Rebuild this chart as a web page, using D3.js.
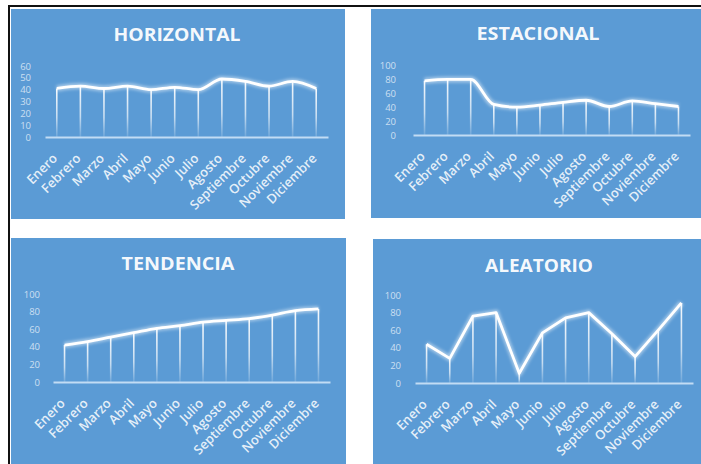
<!DOCTYPE html>
<html><head><meta charset="utf-8">
<script src="https://cdn.jsdelivr.net/npm/d3@7"></script>
<style>html,body{margin:0;padding:0;background:#fff;} svg{display:block;}</style>
</head><body>
<svg id="c" width="701" height="464"></svg>
<script>
const months = ["Enero","Febrero","Marzo","Abril","Mayo","Junio","Julio","Agosto","Septiembre","Octubre","Noviembre","Diciembre"];
const horizontalValues = [41, 43, 41, 43, 40, 42, 40, 49, 47, 43, 47, 41];
const estacionalValues = [78, 80, 80, 44, 40, 43, 47, 50, 41, 49, 45, 41];
const tendenciaValues  = [42, 46, 51, 56, 61, 64, 68, 70, 72, 76, 81, 83];
const aleatorioValues  = [44, 28, 76, 80, 11, 57, 74, 80, 56, 30, 60, 91];
const horizontalTicks = [0, 10, 20, 30, 40, 50, 60];
const percentTicks = [0, 20, 40, 60, 80, 100];
const titles = ["HORIZONTAL", "ESTACIONAL", "TENDENCIA", "ALEATORIO"];

const BLUE = "#5b9bd5";
const svg = d3.select("#c");

// frame
svg.append("rect").attr("x", 8).attr("y", 5).attr("width", 693).attr("height", 2).attr("fill", "#111");
svg.append("rect").attr("x", 8).attr("y", 5).attr("width", 2).attr("height", 459).attr("fill", "#111");

const defs = svg.append("defs");
const g1 = defs.append("linearGradient").attr("id", "drop").attr("x1", 0).attr("y1", 0).attr("x2", 0).attr("y2", 1);
g1.append("stop").attr("offset", 0).attr("stop-color", "#fff").attr("stop-opacity", 0.95);
g1.append("stop").attr("offset", 0.6).attr("stop-color", "#fff").attr("stop-opacity", 0.65);
g1.append("stop").attr("offset", 1).attr("stop-color", "#fff").attr("stop-opacity", 0.12);
defs.append("filter").attr("id", "glow").attr("x", "-10%").attr("y", "-50%").attr("width", "120%").attr("height", "200%")
  .append("feGaussianBlur").attr("stdDeviation", 1.4);

const panels = [
  {title: titles[0], values: horizontalValues, ticks: horizontalTicks, max: 60,
   box: [11, 9, 334, 210], xr: [45, 328], yr: [137, 66], labelRight: 31, tx: 177, ty: 41, tl: 127, curve: d3.curveMonotoneX},
  {title: titles[1], values: estacionalValues, ticks: percentTicks, max: 100,
   box: [371, 9, 330, 209], xr: [413, 690], yr: [135, 65.5], labelRight: 396, tx: 538, ty: 40, tl: 123, curve: d3.curveMonotoneX},
  {title: titles[2], values: tendenciaValues, ticks: percentTicks, max: 100,
   box: [11, 238, 335, 226], xr: [53, 330], yr: [382, 294], labelRight: 40, tx: 178, ty: 270, tl: 113, curve: d3.curveMonotoneX},
  {title: titles[3], values: aleatorioValues, ticks: percentTicks, max: 100,
   box: [373, 239, 328, 225], xr: [415, 693], yr: [383, 295], labelRight: 401, tx: 539, ty: 271.5, tl: 108, curve: d3.curveLinear}
];

panels.forEach(p => {
  const g = svg.append("g");
  g.append("rect").attr("x", p.box[0]).attr("y", p.box[1]).attr("width", p.box[2]).attr("height", p.box[3]).attr("fill", BLUE);

  g.append("text").attr("x", p.tx).attr("y", p.ty).attr("text-anchor", "middle")
    .attr("font-family", "'Open Sans', sans-serif").attr("font-weight", 700).attr("font-size", 17)
    .attr("fill", "#fff").attr("fill-opacity", 0.95).attr("textLength", p.tl).attr("lengthAdjust", "spacingAndGlyphs")
    .text(p.title);

  const x = d3.scaleBand().domain(months).range(p.xr).padding(0);
  const y = d3.scaleLinear().domain([0, p.max]).range(p.yr);
  const cx = d => x(d) + x.bandwidth() / 2;

  // y axis labels
  const ya = g.append("g").attr("transform", `translate(${p.labelRight},0)`)
    .call(d3.axisLeft(y).tickValues(p.ticks).tickSize(0).tickPadding(0));
  ya.select(".domain").remove();
  ya.selectAll("text").attr("font-family", "'Open Sans', sans-serif").attr("font-size", 9.5)
    .attr("fill", "#fff").attr("fill-opacity", 0.7);

  // drop lines
  g.append("g").selectAll("rect").data(months).join("rect")
    .attr("x", d => cx(d) - 0.8).attr("width", 1.6)
    .attr("y", (d, i) => y(p.values[i]))
    .attr("height", (d, i) => y(0) - y(p.values[i]))
    .attr("fill", "url(#drop)");

  // x axis
  const xa = g.append("g").attr("transform", `translate(0,${y(0)})`)
    .call(d3.axisBottom(x).tickSize(0).tickSizeOuter(0));
  xa.select(".domain").attr("stroke", "#c2dcf4").attr("stroke-width", 2);
  xa.selectAll("text")
    .attr("font-family", "'Open Sans', sans-serif").attr("font-weight", 600).attr("font-size", 13)
    .attr("fill", "#fff").attr("fill-opacity", 0.85)
    .attr("text-anchor", "end").attr("y", 0).attr("x", 0).attr("dy", "0.35em")
    .attr("transform", "translate(-2,19) rotate(-45)");

  // line
  const line = d3.line().x((d, i) => cx(months[i])).y(d => y(d)).curve(p.curve);
  g.append("path").attr("d", line(p.values)).attr("fill", "none").attr("stroke", "#fff")
    .attr("stroke-width", 6).attr("stroke-opacity", 0.45).attr("filter", "url(#glow)").attr("stroke-linejoin", "round");
  g.append("path").attr("d", line(p.values)).attr("fill", "none").attr("stroke", "#fff")
    .attr("stroke-width", 2.8).attr("stroke-linejoin", "round");
});
</script>
</body></html>
